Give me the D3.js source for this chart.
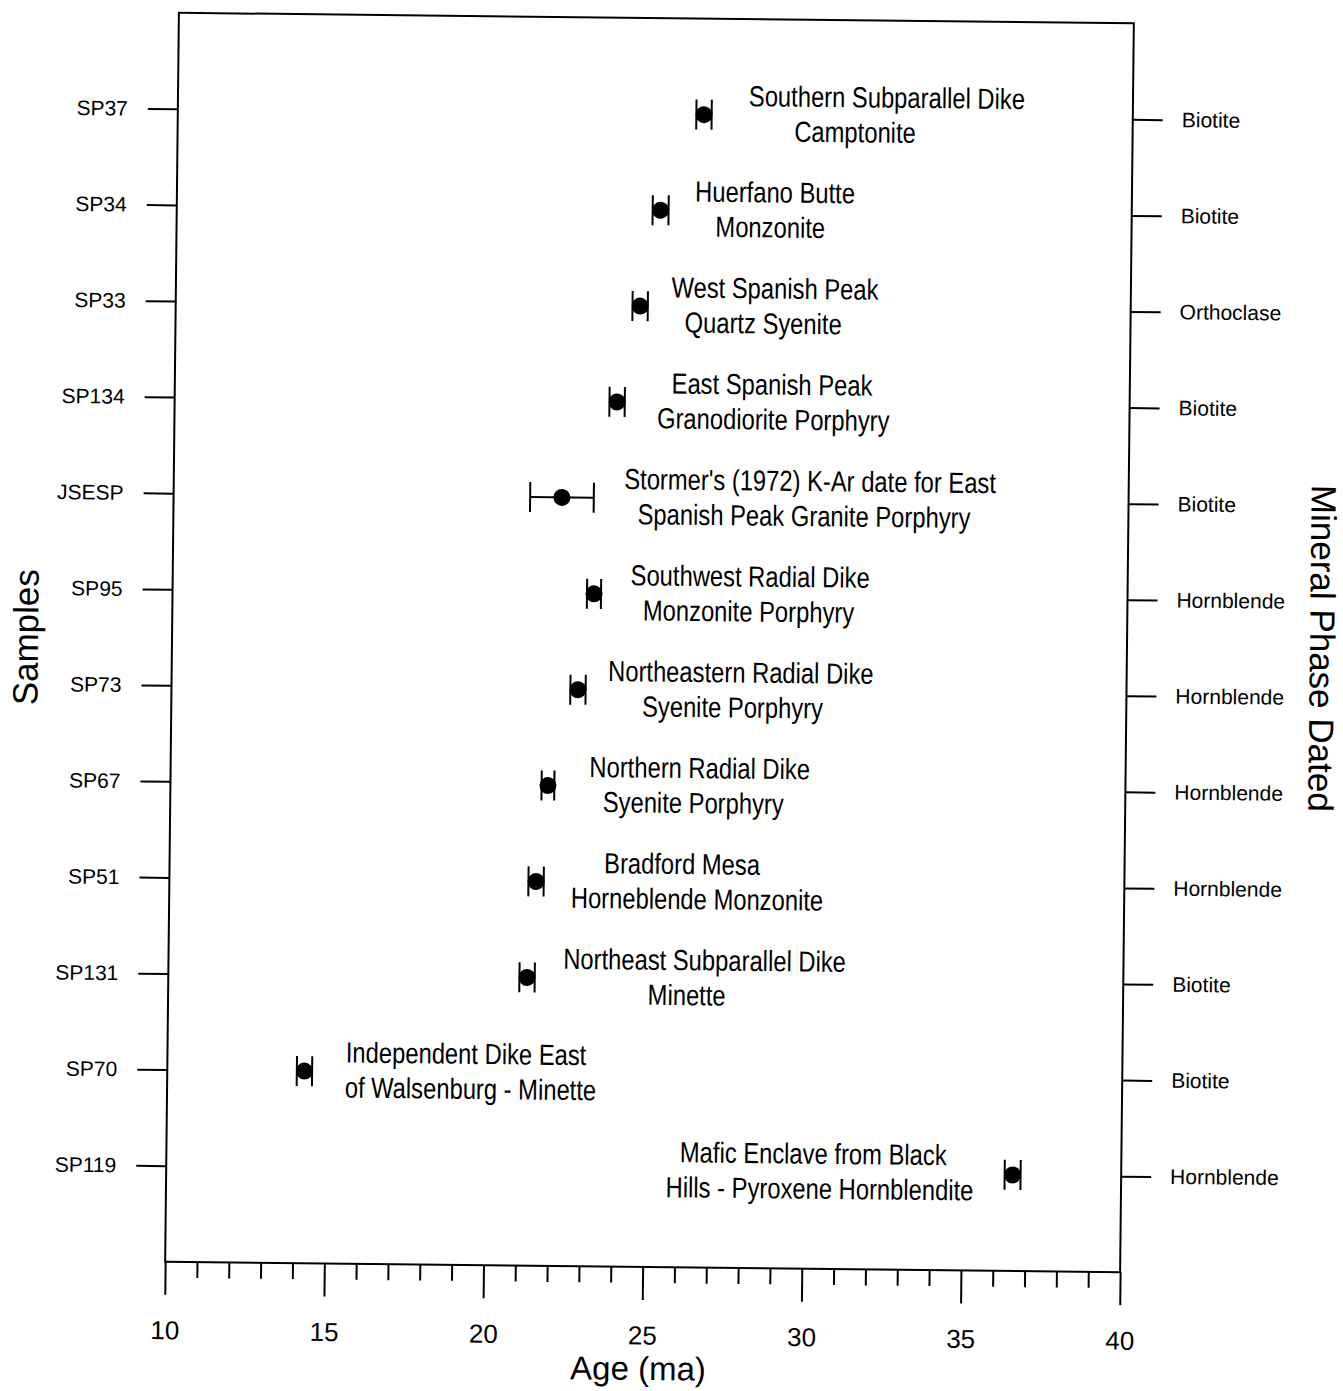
<!DOCTYPE html>
<html>
<head>
<meta charset="utf-8">
<script src="https://cdn.jsdelivr.net/npm/d3@7"></script>
<style>
  body { margin: 0; background: #fff; }
  svg { display: block; }
</style>
</head>
<body>
<div id="chart"></div>
<script>
// ── data ────────────────────────────────────────────────────────────
const samples  = ['SP37', 'SP34', 'SP33', 'SP134', 'JSESP', 'SP95', 'SP73', 'SP67', 'SP51', 'SP131', 'SP70', 'SP119']
const minerals = ['Biotite', 'Biotite', 'Orthoclase', 'Biotite', 'Biotite', 'Hornblende', 'Hornblende', 'Hornblende', 'Hornblende', 'Biotite', 'Biotite', 'Hornblende']
const ages     = [26.53, 25.2, 24.59, 23.9, 22.2, 23.24, 22.77, 21.86, 21.52, 21.27, 14.31, 36.59]
const errors   = [0.24, 0.25, 0.24, 0.24, 1.0, 0.22, 0.24, 0.2, 0.24, 0.24, 0.24, 0.25]
const labelTop = [
  'Southern Subparallel Dike', 'Huerfano Butte', 'West Spanish Peak', 'East Spanish Peak',
  "Stormer's (1972) K-Ar date for East", 'Southwest Radial Dike', 'Northeastern Radial Dike',
  'Northern Radial Dike', 'Bradford Mesa', 'Northeast Subparallel Dike',
  'Independent Dike East', 'Mafic Enclave from Black'
]
const labelBottom = [
  'Camptonite', 'Monzonite', 'Quartz Syenite', 'Granodiorite Porphyry',
  'Spanish Peak Granite Porphyry', 'Monzonite Porphyry', 'Syenite Porphyry',
  'Syenite Porphyry', 'Horneblende Monzonite', 'Minette',
  'of Walsenburg - Minette', 'Hills - Pyroxene Hornblendite'
]
// age (ma) at which each label line is centred
const labelTopAt    = [32.27, 28.79, 28.82, 28.76, 29.99, 28.14, 27.88, 26.62, 26.10, 26.84, 19.38, 30.32]
const labelBottomAt = [31.28, 28.65, 28.46, 28.81, 29.81, 28.10, 27.63, 26.43, 26.58, 26.29, 19.53, 30.53]
const majorTicks = [10, 15, 20, 25, 30, 35, 40]
const minorTicks = d3.range(10, 41).filter(v => v % 5 !== 0)

// ── layout ──────────────────────────────────────────────────────────
const WIDTH = 1343, HEIGHT = 1391
const FRAME = { left: 172, right: 1127, top: 18, bottom: 1267 }
const SANS = "'Liberation Sans', Arial, Helvetica, sans-serif"

const svg = d3.select('#chart').append('svg').attr('width', WIDTH).attr('height', HEIGHT)
svg.append('rect').attr('width', WIDTH).attr('height', HEIGHT).attr('fill', '#fff')

// the scanned figure is tilted a little
const g = svg.append('g').attr('transform', 'rotate(0.63, 650, 643)')

const x = d3.scaleLinear().domain([10, 40]).range([FRAME.left, FRAME.right])
const y = d3.scalePoint().domain(samples).range([FRAME.top, FRAME.bottom]).padding(1)

// ── axes ────────────────────────────────────────────────────────────
const styleAxis = (sel, size) => {
  sel.select('.domain').remove()
  sel.selectAll('line').attr('stroke', '#000').attr('stroke-width', 2)
  sel.selectAll('text').attr('fill', '#000').style('font-family', SANS).style('font-size', size)
}

g.append('g').attr('transform', `translate(${FRAME.left},0)`)
  .call(d3.axisLeft(y).tickSize(30).tickPadding(20))
  .call(s => styleAxis(s, '21px'))

g.append('g').attr('transform', `translate(${FRAME.right},0)`)
  .call(d3.axisRight(y).tickSize(30).tickPadding(19).tickFormat((d, i) => minerals[i]))
  .call(s => styleAxis(s, '21px'))

g.append('g').attr('transform', `translate(0,${FRAME.bottom})`)
  .call(d3.axisBottom(x).tickValues(minorTicks).tickSize(16).tickFormat(''))
  .call(s => styleAxis(s, '26px'))

g.append('g').attr('transform', `translate(0,${FRAME.bottom})`)
  .call(d3.axisBottom(x).tickValues(majorTicks).tickSize(33).tickPadding(26))
  .call(s => styleAxis(s, '26px'))

// frame
g.append('rect')
  .attr('x', FRAME.left).attr('y', FRAME.top)
  .attr('width', FRAME.right - FRAME.left).attr('height', FRAME.bottom - FRAME.top)
  .attr('fill', 'none').attr('stroke', '#000').attr('stroke-width', 2)

// axis titles
g.append('text').attr('transform', 'translate(38,644) rotate(-90)')
  .attr('text-anchor', 'middle').style('font-family', SANS).style('font-size', '35px')
  .text('Samples')
g.append('text').attr('transform', 'translate(1310,641) rotate(90)')
  .attr('text-anchor', 'middle').style('font-family', SANS).style('font-size', '35px')
  .text('Mineral Phase Dated')
g.append('text').attr('x', 646).attr('y', 1380)
  .attr('text-anchor', 'middle').style('font-family', SANS).style('font-size', '33px')
  .text('Age (ma)')

// ── points with error bars ──────────────────────────────────────────
const rows = samples.map((s, i) => ({ s, age: ages[i], err: errors[i] }))
const pts = g.append('g').selectAll('g').data(rows).join('g')
  .attr('transform', d => `translate(0,${y(d.s)})`)

pts.append('line')
  .attr('x1', d => x(d.age - d.err)).attr('x2', d => x(d.age + d.err))
  .attr('stroke', '#000').attr('stroke-width', 2)
pts.selectAll('.cap').data(d => [d.age - d.err, d.age + d.err]).join('line')
  .attr('class', 'cap')
  .attr('x1', v => x(v)).attr('x2', v => x(v)).attr('y1', -15).attr('y2', 15)
  .attr('stroke', '#000').attr('stroke-width', 2)
pts.append('circle')
  .attr('cx', d => x(d.age)).attr('r', 8.5).attr('fill', '#000')

// ── labels (condensed face, squeezed horizontally) ──────────────────
const lab = g.append('g').style('font-family', SANS).style('font-size', '29px')
  .attr('text-anchor', 'middle').attr('fill', '#000')
const putLabel = (txt, age, yy) => lab.append('text')
  .attr('transform', `translate(${x(age)},${yy}) scale(0.82,1)`).text(txt)
samples.forEach((s, i) => {
  putLabel(labelTop[i], labelTopAt[i], y(s) - 9)
  putLabel(labelBottom[i], labelBottomAt[i], y(s) + 26)
})
</script>
</body>
</html>
